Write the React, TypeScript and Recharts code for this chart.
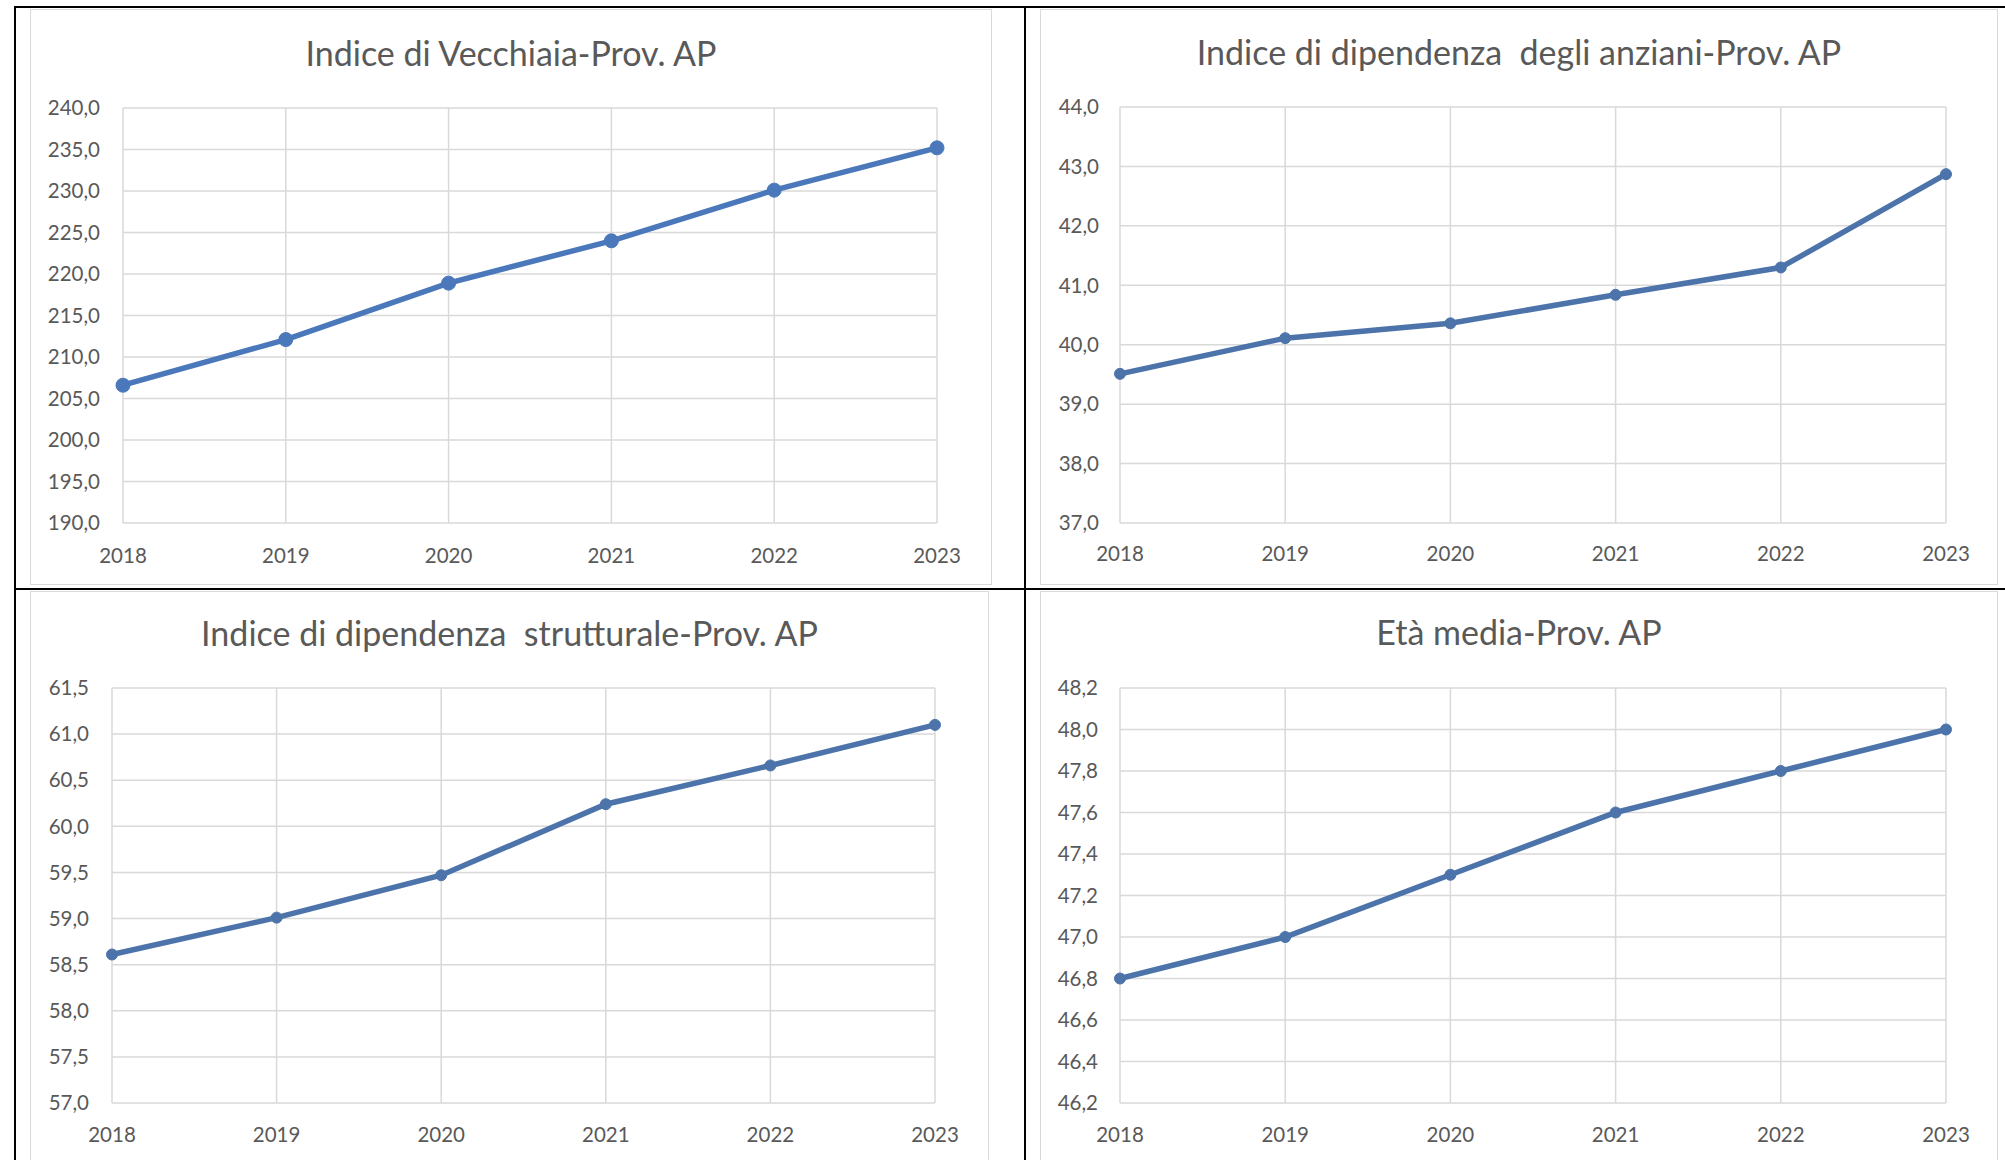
import React from 'react';
import { LineChart, Line, XAxis, YAxis, CartesianGrid } from 'recharts';

const years = ['2018', '2019', '2020', '2021', '2022', '2023'];

const vecchiaia = [206.6, 212.1, 218.9, 224.0, 230.1, 235.2];
const dipAnziani = [39.51, 40.11, 40.36, 40.84, 41.3, 42.87];
const dipStrutturale = [58.61, 59.01, 59.47, 60.24, 60.66, 61.1];
const etaMedia = [46.8, 47.0, 47.3, 47.6, 47.8, 48.0];

const ticksVecchiaia = [190, 195, 200, 205, 210, 215, 220, 225, 230, 235, 240];
const ticksAnziani = [37, 38, 39, 40, 41, 42, 43, 44];
const ticksStrutturale = [57, 57.5, 58, 58.5, 59, 59.5, 60, 60.5, 61, 61.5];
const ticksEta = [46.2, 46.4, 46.6, 46.8, 47.0, 47.2, 47.4, 47.6, 47.8, 48.0, 48.2];

const titles = [
  'Indice di Vecchiaia-Prov. AP',
  'Indice di dipendenza\u00a0 degli anziani-Prov. AP',
  'Indice di dipendenza\u00a0 strutturale-Prov. AP',
  'Età media-Prov. AP',
];

const FONT = 'Lato, "Open Sans", sans-serif';
const TEXT = '#595959';
const GRID = '#d9d9d9';

const fmt = (v: number) => v.toFixed(1).replace('.', ',');

type PanelProps = {
  title: string;
  values: number[];
  ticks: number[];
  left: number;
  top: number;
  width: number;
  height: number;
  margin: { top: number; right: number; bottom: number; left: number };
  yWidth: number;
  yGap: number;
  xGap: number;
  titleBaseline: number;
  color: string;
  strokeWidth: number;
  dotR: number;
};

function Panel(p: PanelProps) {
  const data = years.map((y, i) => ({ year: y, v: p.values[i] }));
  return (
    <div
      style={{
        position: 'absolute',
        left: p.left,
        top: p.top,
        width: p.width,
        height: p.height,
        border: `1px solid ${GRID}`,
        boxSizing: 'border-box',
        background: '#fff',
      }}
    >
      <svg
        width={p.width}
        height={80}
        style={{ position: 'absolute', left: -1, top: -1, overflow: 'visible' }}
      >
        <text
          x={p.width / 2}
          y={p.titleBaseline}
          textAnchor="middle"
          fontFamily={FONT}
          fontSize={34}
          fill={TEXT}
        >
          {p.title}
        </text>
      </svg>
      <div style={{ position: 'absolute', left: -1, top: -1 }}>
        <LineChart width={p.width} height={p.height} data={data} margin={p.margin}>
          <CartesianGrid stroke={GRID} strokeWidth={1.5} />
          <XAxis
            dataKey="year"
            scale="point"
            padding={{ left: 0, right: 0 }}
            axisLine={false}
            tickLine={false}
            tickSize={0}
            tickMargin={p.xGap}
            interval={0}
            height={40}
            tick={{ fill: TEXT, fontSize: 20.5, fontFamily: FONT }}
          />
          <YAxis
            type="number"
            domain={[p.ticks[0], p.ticks[p.ticks.length - 1]]}
            ticks={p.ticks}
            interval={0}
            allowDataOverflow
            axisLine={false}
            tickLine={false}
            tickSize={0}
            tickMargin={p.yGap}
            width={p.yWidth}
            tickFormatter={fmt}
            tick={{ fill: TEXT, fontSize: 20.5, fontFamily: FONT }}
          />
          <Line
            type="linear"
            dataKey="v"
            stroke={p.color}
            strokeWidth={p.strokeWidth}
            dot={{ r: p.dotR, fill: p.color, stroke: p.color, strokeWidth: 1 }}
            isAnimationActive={false}
          />
        </LineChart>
      </div>
    </div>
  );
}

export default function App() {
  return (
    <div
      style={{
        position: 'absolute',
        left: 0,
        top: 0,
        width: 2005,
        height: 1160,
        overflow: 'hidden',
        background: '#fff',
      }}
    >
      <Panel
        title={titles[0]}
        values={vecchiaia}
        ticks={ticksVecchiaia}
        left={30}
        top={9}
        width={962}
        height={576}
        margin={{ top: 99, right: 55, bottom: 22, left: 13 }}
        yWidth={80}
        yGap={23}
        xGap={25}
        titleBaseline={57}
        color="#4a78bb"
        strokeWidth={5.5}
        dotR={7}
      />
      <Panel
        title={titles[1]}
        values={dipAnziani}
        ticks={ticksAnziani}
        left={1040}
        top={9}
        width={958}
        height={576}
        margin={{ top: 98, right: 52, bottom: 22, left: 10 }}
        yWidth={70}
        yGap={21}
        xGap={23}
        titleBaseline={56}
        color="#4d74aa"
        strokeWidth={5.5}
        dotR={5.5}
      />
      <Panel
        title={titles[2]}
        values={dipStrutturale}
        ticks={ticksStrutturale}
        left={30}
        top={591}
        width={959}
        height={580}
        margin={{ top: 97, right: 54, bottom: 28, left: 12 }}
        yWidth={70}
        yGap={23}
        xGap={24}
        titleBaseline={55}
        color="#4d74aa"
        strokeWidth={5.5}
        dotR={5.5}
      />
      <Panel
        title={titles[3]}
        values={etaMedia}
        ticks={ticksEta}
        left={1040}
        top={591}
        width={958}
        height={580}
        margin={{ top: 97, right: 52, bottom: 28, left: 10 }}
        yWidth={70}
        yGap={22}
        xGap={24}
        titleBaseline={54}
        color="#4d74aa"
        strokeWidth={5.5}
        dotR={5.5}
      />
      <svg
        width={2005}
        height={1160}
        style={{ position: 'absolute', left: 0, top: 0, pointerEvents: 'none' }}
      >
        <rect x={14} y={6} width={1991} height={2} fill="#000" />
        <rect x={14} y={6} width={2} height={1154} fill="#000" />
        <rect x={1024} y={6} width={2} height={1154} fill="#000" />
        <rect x={14} y={588} width={1991} height={2} fill="#000" />
      </svg>
    </div>
  );
}
